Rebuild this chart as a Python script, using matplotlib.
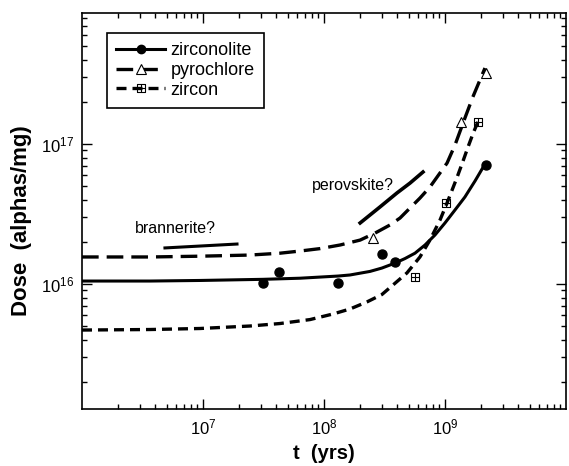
import matplotlib
matplotlib.use('Agg')
import matplotlib.pyplot as plt
from matplotlib.path import Path
from matplotlib.lines import Line2D
from matplotlib.ticker import NullFormatter

plt.rcParams['font.family'] = ['Liberation Sans', 'DejaVu Sans']
plt.rcParams['mathtext.fontset'] = 'custom'
plt.rcParams['mathtext.rm'] = 'Liberation Sans'
plt.rcParams['mathtext.it'] = 'Liberation Sans:italic'
plt.rcParams['mathtext.bf'] = 'Liberation Sans:bold'

# ------------------------------
# data
# ------------------------------
# zirconolite curve + points
zrl_t = [1.0e6, 3.65e6, 9.44e6, 3.13e7, 6.34e7, 1.31e8, 1.64e8, 2.40e8, 3.01e8, 3.86e8,
         4.67e8, 5.65e8, 6.84e8, 8.27e8, 1.0e9, 1.21e9, 1.46e9, 1.77e9, 2.14e9]
zrl_d = [1.05e16, 1.05e16, 1.06e16, 1.08e16, 1.10e16, 1.14e16, 1.16e16, 1.23e16, 1.30e16, 1.41e16,
         1.52e16, 1.66e16, 1.90e16, 2.24e16, 2.73e16, 3.38e16, 4.18e16, 5.44e16, 7.19e16]
zrl_pt_t = [3.13e7, 4.25e7, 1.31e8, 3.01e8, 3.86e8, 2.18e9]
zrl_pt_d = [1.02e16, 1.22e16, 1.02e16, 1.64e16, 1.44e16, 7.08e16]

# pyrochlore curve + points
pyr_t = [1.0e6, 3.65e6, 9.44e6, 2.44e7, 4.33e7, 6.34e7, 9.27e7, 1.36e8, 1.99e8, 2.64e8,
         3.51e8, 4.25e8, 5.14e8, 6.21e8, 7.51e8, 9.09e8, 1.04e9, 1.21e9, 1.46e9, 1.70e9, 2.14e9]
pyr_d = [1.56e16, 1.56e16, 1.58e16, 1.61e16, 1.66e16, 1.72e16, 1.79e16, 1.90e16, 2.06e16, 2.31e16,
         2.64e16, 2.96e16, 3.49e16, 4.11e16, 4.93e16, 6.21e16, 7.31e16, 9.84e16, 1.53e17, 2.17e17, 3.49e17]
pyr_pt_t = [2.54e8, 1.36e9, 2.18e9]
pyr_pt_d = [2.13e16, 1.44e17, 3.21e17]

# zircon curve + points
zrc_t = [1.0e6, 3.65e6, 9.44e6, 2.44e7, 4.33e7, 7.66e7, 1.19e8, 1.64e8, 2.26e8, 3.01e8,
         3.72e8, 4.85e8, 6.21e8, 7.51e8, 9.09e8, 1.04e9, 1.26e9, 1.41e9, 1.55e9, 1.70e9, 1.87e9]
zrc_d = [4.69e15, 4.73e15, 4.81e15, 5.01e15, 5.22e15, 5.57e15, 6.11e15, 6.63e15, 7.44e15, 8.41e15,
         9.84e15, 1.20e16, 1.56e16, 2.06e16, 2.86e16, 3.79e16, 5.80e16, 7.56e16, 9.52e16, 1.18e17, 1.44e17]
zrc_pt_t = [5.65e8, 1.02e9, 1.87e9]
zrc_pt_d = [1.12e16, 3.79e16, 1.44e17]

# short annotated segments
bra_t = [4.85e6, 1.91e7]
bra_d = [1.81e16, 1.93e16]
per_t = [1.99e8, 2.90e8, 4.01e8, 5.14e8, 6.58e8]
per_d = [2.73e16, 3.55e16, 4.47e16, 5.26e16, 6.31e16]

# open square with a cross inside
sq_cross = Path([(-1, -1), (1, -1), (1, 1), (-1, 1), (-1, -1), (0, -1), (0, 1), (-1, 0), (1, 0)],
                [Path.MOVETO, Path.LINETO, Path.LINETO, Path.LINETO, Path.LINETO,
                 Path.MOVETO, Path.LINETO, Path.MOVETO, Path.LINETO])

fig = plt.figure(figsize=(5.69, 4.66), dpi=100)
ax = fig.add_axes([0.1441, 0.1223, 0.8506, 0.8498])

dash_pyr = (0, (5.0, 2.4))
dash_zrc = (0, (3.0, 1.8))

ax.plot(zrl_t, zrl_d, color='black', lw=2.2, solid_capstyle='butt', solid_joinstyle='round')
ax.plot(zrl_pt_t, zrl_pt_d, 'o', color='black', ms=6.5)
ax.plot(pyr_t, pyr_d, color='black', lw=2.4, ls=dash_pyr)
ax.plot(pyr_pt_t, pyr_pt_d, '^', color='black', mfc='white', mew=0.8, ms=6.5)
ax.plot(zrc_t, zrc_d, color='black', lw=2.4, ls=dash_zrc)
ax.plot(zrc_pt_t, zrc_pt_d, ls='none', marker=sq_cross, color='black', mfc='none', mew=0.8, ms=6)

ax.plot(bra_t, bra_d, color='black', lw=2.2)
ax.plot(per_t, per_d, color='black', lw=2.6)
ax.text(5.87e6, 2.51e16, 'brannerite?', fontsize=11.5, ha='center', va='center')
ax.text(1.74e8, 5.09e16, 'perovskite?', fontsize=11.5, ha='center', va='center')

ax.set_xscale('log')
ax.set_yscale('log')
ax.set_xlim(1e6, 1e10)
ax.set_ylim(10**15.107, 10**17.936)
ax.set_xticks([1e7, 1e8, 1e9])
ax.set_yticks([1e16, 1e17])
ax.xaxis.set_minor_formatter(NullFormatter())
ax.yaxis.set_minor_formatter(NullFormatter())
ax.tick_params(which='both', direction='in', top=True, right=True, width=1, labelsize=12)
ax.tick_params(which='major', length=7, pad=6)
ax.tick_params(which='minor', length=3.5)
for s in ax.spines.values():
    s.set_linewidth(1.2)

ax.set_xlabel('t  (yrs)', fontsize=14.5, fontweight='bold')
ax.set_ylabel('Dose  (alphas/mg)', fontsize=16, fontweight='bold')
ax.xaxis.set_label_coords(0.5, -0.088)
ax.yaxis.set_label_coords(-0.103, 0.475)

handles = [
    Line2D([], [], color='black', lw=2.2, marker='o', ms=6),
    Line2D([], [], color='black', lw=2.4, ls=dash_pyr, marker='^', mfc='white', mew=0.8, ms=6.5),
    Line2D([], [], color='black', lw=2.4, ls=dash_zrc, marker=sq_cross, mfc='none', mew=0.8, ms=6),
]
leg = ax.legend(handles, ['zirconolite', 'pyrochlore', 'zircon'], loc='upper left',
                bbox_to_anchor=(0.052, 0.949), borderaxespad=0, fontsize=13,
                fancybox=False, framealpha=1, edgecolor='black', handlelength=2.7,
                handletextpad=0.3, labelspacing=0.15, borderpad=0.5)
leg.get_frame().set_linewidth(1.2)

fig.savefig('out.png', dpi=100)
